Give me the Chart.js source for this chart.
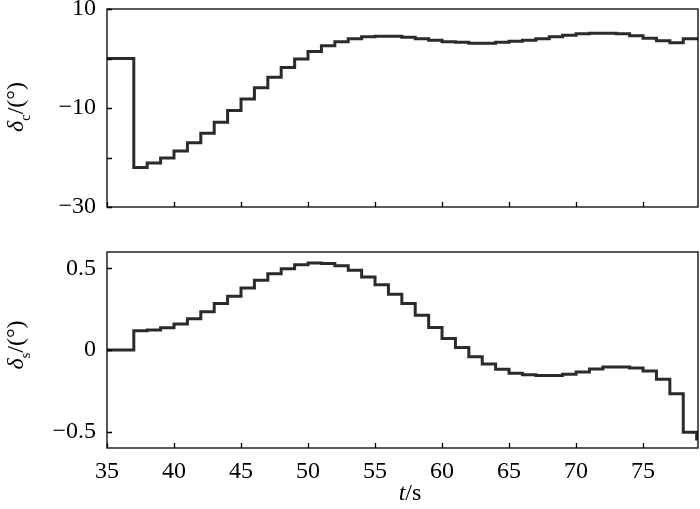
<!DOCTYPE html>
<html>
<head>
<meta charset="utf-8">
<script src="https://cdn.jsdelivr.net/npm/chart.js@4"></script>
<style>
  body { margin: 0; background: #fff; }
  canvas { display: block; }
</style>
</head>
<body>
<canvas id="topChart" width="700" height="230"></canvas>
<canvas id="bottomChart" width="700" height="279"></canvas>
<script>
// time at which each step starts (last entry = end of record)
const times = [35, 36, 37, 38, 39, 40, 41, 42, 43, 44, 45, 46, 47, 48, 49, 50, 51, 52, 53, 54, 55, 56, 57,
  58, 59, 60, 61, 62, 63, 64, 65, 66, 67, 68, 69, 70, 71, 72, 73, 74, 75, 76, 77, 78, 79, 79.1];

// delta_c in degrees
const deltaC = [0, 0, -22.0, -21.1, -20.1, -18.7, -17.0, -15.1, -12.9, -10.5, -8.2, -5.9, -3.8, -1.8, -0.1,
  1.4, 2.6, 3.4, 4.0, 4.4, 4.5, 4.5, 4.3, 4.0, 3.7, 3.4, 3.3, 3.1, 3.1, 3.3, 3.5, 3.7, 4.0, 4.4, 4.7, 5.0,
  5.1, 5.1, 5.0, 4.6, 4.1, 3.6, 3.2, 4.0, 4.0, 4.0];

// delta_s in degrees
const deltaS = [0, 0, 0.118, 0.122, 0.136, 0.159, 0.191, 0.234, 0.285, 0.329, 0.380, 0.427, 0.467, 0.498,
  0.522, 0.533, 0.530, 0.516, 0.488, 0.447, 0.400, 0.341, 0.285, 0.213, 0.138, 0.071, 0.016, -0.041, -0.085,
  -0.118, -0.142, -0.152, -0.156, -0.156, -0.148, -0.134, -0.116, -0.104, -0.104, -0.110, -0.128, -0.179,
  -0.268, -0.504, -0.545, -0.545];

const xTicks = [35, 40, 45, 50, 55, 60, 65, 70, 75];
const topYTicks = [10, 0, -10, -20, -30];
const topYLabels = [10, -10, -30];
const bottomYTicks = [0.5, 0, -0.5];

const serif = "'Liberation Serif', 'Times New Roman', serif";

function fmt(v) {
  return v < 0 ? "\u2212" + Math.abs(v) : String(v);
}

// frame around the plot + inward tick marks
const frameTicks = {
  id: "frameTicks",
  afterDatasetsDraw(chart) {
    const { ctx, chartArea: a, scales } = chart;
    ctx.save();
    ctx.strokeStyle = "#000";
    ctx.lineWidth = 1.3;
    ctx.strokeRect(a.left, a.top, a.right - a.left, a.bottom - a.top);
    ctx.beginPath();
    scales.x.ticks.forEach((t) => {
      const px = Math.round(scales.x.getPixelForValue(t.value)) + 0.5;
      ctx.moveTo(px, a.bottom);
      ctx.lineTo(px, a.bottom - 5);
    });
    scales.y.ticks.forEach((t) => {
      const py = Math.round(scales.y.getPixelForValue(t.value)) + 0.5;
      ctx.moveTo(a.left, py);
      ctx.lineTo(a.left + 5, py);
    });
    ctx.stroke();
    ctx.restore();
  },
};

// draw a run of text pieces (italic / subscript) starting at x
function drawParts(ctx, parts, size, x, y) {
  parts.forEach((p) => {
    const s = p.sub ? size * 0.6 : size;
    ctx.font = (p.italic ? "italic " : "") + s + "px " + serif;
    ctx.fillText(p.text, x, y + (p.sub ? size * 0.28 : 0));
    x += ctx.measureText(p.text).width;
  });
}

function partsWidth(ctx, parts, size) {
  let w = 0;
  parts.forEach((p) => {
    const s = p.sub ? size * 0.6 : size;
    ctx.font = (p.italic ? "italic " : "") + s + "px " + serif;
    w += ctx.measureText(p.text).width;
  });
  return w;
}

function yTitle(parts, cx, cy) {
  return {
    id: "yTitle",
    afterDraw(chart) {
      const ctx = chart.ctx;
      ctx.save();
      ctx.fillStyle = "#000";
      ctx.textBaseline = "alphabetic";
      ctx.translate(cx, cy);
      ctx.rotate(-Math.PI / 2);
      const w = partsWidth(ctx, parts, 24);
      drawParts(ctx, parts, 24, -w / 2, 0);
      ctx.restore();
    },
  };
}

const xTitle = {
  id: "xTitle",
  afterDraw(chart) {
    const ctx = chart.ctx;
    const parts = [{ text: "t", italic: true }, { text: "/s" }];
    ctx.save();
    ctx.fillStyle = "#000";
    ctx.textBaseline = "alphabetic";
    const w = partsWidth(ctx, parts, 24);
    drawParts(ctx, parts, 24, 410 - w / 2, 270);
    ctx.restore();
  },
};

function makeChart(id, values, yMin, yMax, yTicks, yLabel, showX, xHeight, padTop, extraPlugins) {
  return new Chart(document.getElementById(id), {
    type: "line",
    data: {
      datasets: [
        {
          data: times.map((t, i) => ({ x: t, y: values[i] })),
          borderColor: "#2b2b2b",
          borderWidth: 3,
          pointRadius: 0,
          stepped: "before",
          fill: false,
          borderJoinStyle: "miter",
        },
      ],
    },
    options: {
      responsive: false,
      animation: false,
      devicePixelRatio: 1,
      layout: { padding: { top: padTop, right: 2, left: 0, bottom: 0 } },
      plugins: { legend: { display: false }, tooltip: { enabled: false } },
      scales: {
        x: {
          type: "linear",
          min: 35,
          max: 79.1,
          grid: { display: false, drawTicks: false },
          border: { display: false },
          afterBuildTicks: (scale) => {
            scale.ticks = xTicks.map((v) => ({ value: v }));
          },
          afterFit: (scale) => {
            scale.height = xHeight;
            scale.paddingLeft = 0;
            scale.paddingRight = 0;
          },
          ticks: {
            display: showX,
            padding: 9,
            maxRotation: 0,
            color: "#000",
            font: { family: serif, size: 24 },
            callback: (v) => fmt(v),
          },
        },
        y: {
          min: yMin,
          max: yMax,
          grid: { display: false, drawTicks: false },
          border: { display: false },
          afterBuildTicks: (scale) => {
            scale.ticks = yTicks.map((v) => ({ value: v }));
          },
          afterFit: (scale) => {
            scale.width = 107;
            scale.paddingTop = 0;
            scale.paddingBottom = 0;
          },
          ticks: {
            padding: 11,
            color: "#000",
            font: { family: serif, size: 24 },
            callback: (v) => (yLabel(v) ? fmt(v) : ""),
          },
        },
      },
    },
    plugins: [frameTicks].concat(extraPlugins),
  });
}

makeChart("topChart", deltaC, -30, 10, topYTicks, (v) => topYLabels.includes(v), false, 23, 9, [
  yTitle([{ text: "\u03b4", italic: true }, { text: "c", sub: true }, { text: "/(\u00b0)" }], 23, 107),
]);

makeChart("bottomChart", deltaS, -0.6, 0.6, bottomYTicks, () => true, true, 61, 22, [
  yTitle([{ text: "\u03b4", italic: true }, { text: "s", sub: true }, { text: "/(\u00b0)" }], 23, 115),
  xTitle,
]);
</script>
</body>
</html>
